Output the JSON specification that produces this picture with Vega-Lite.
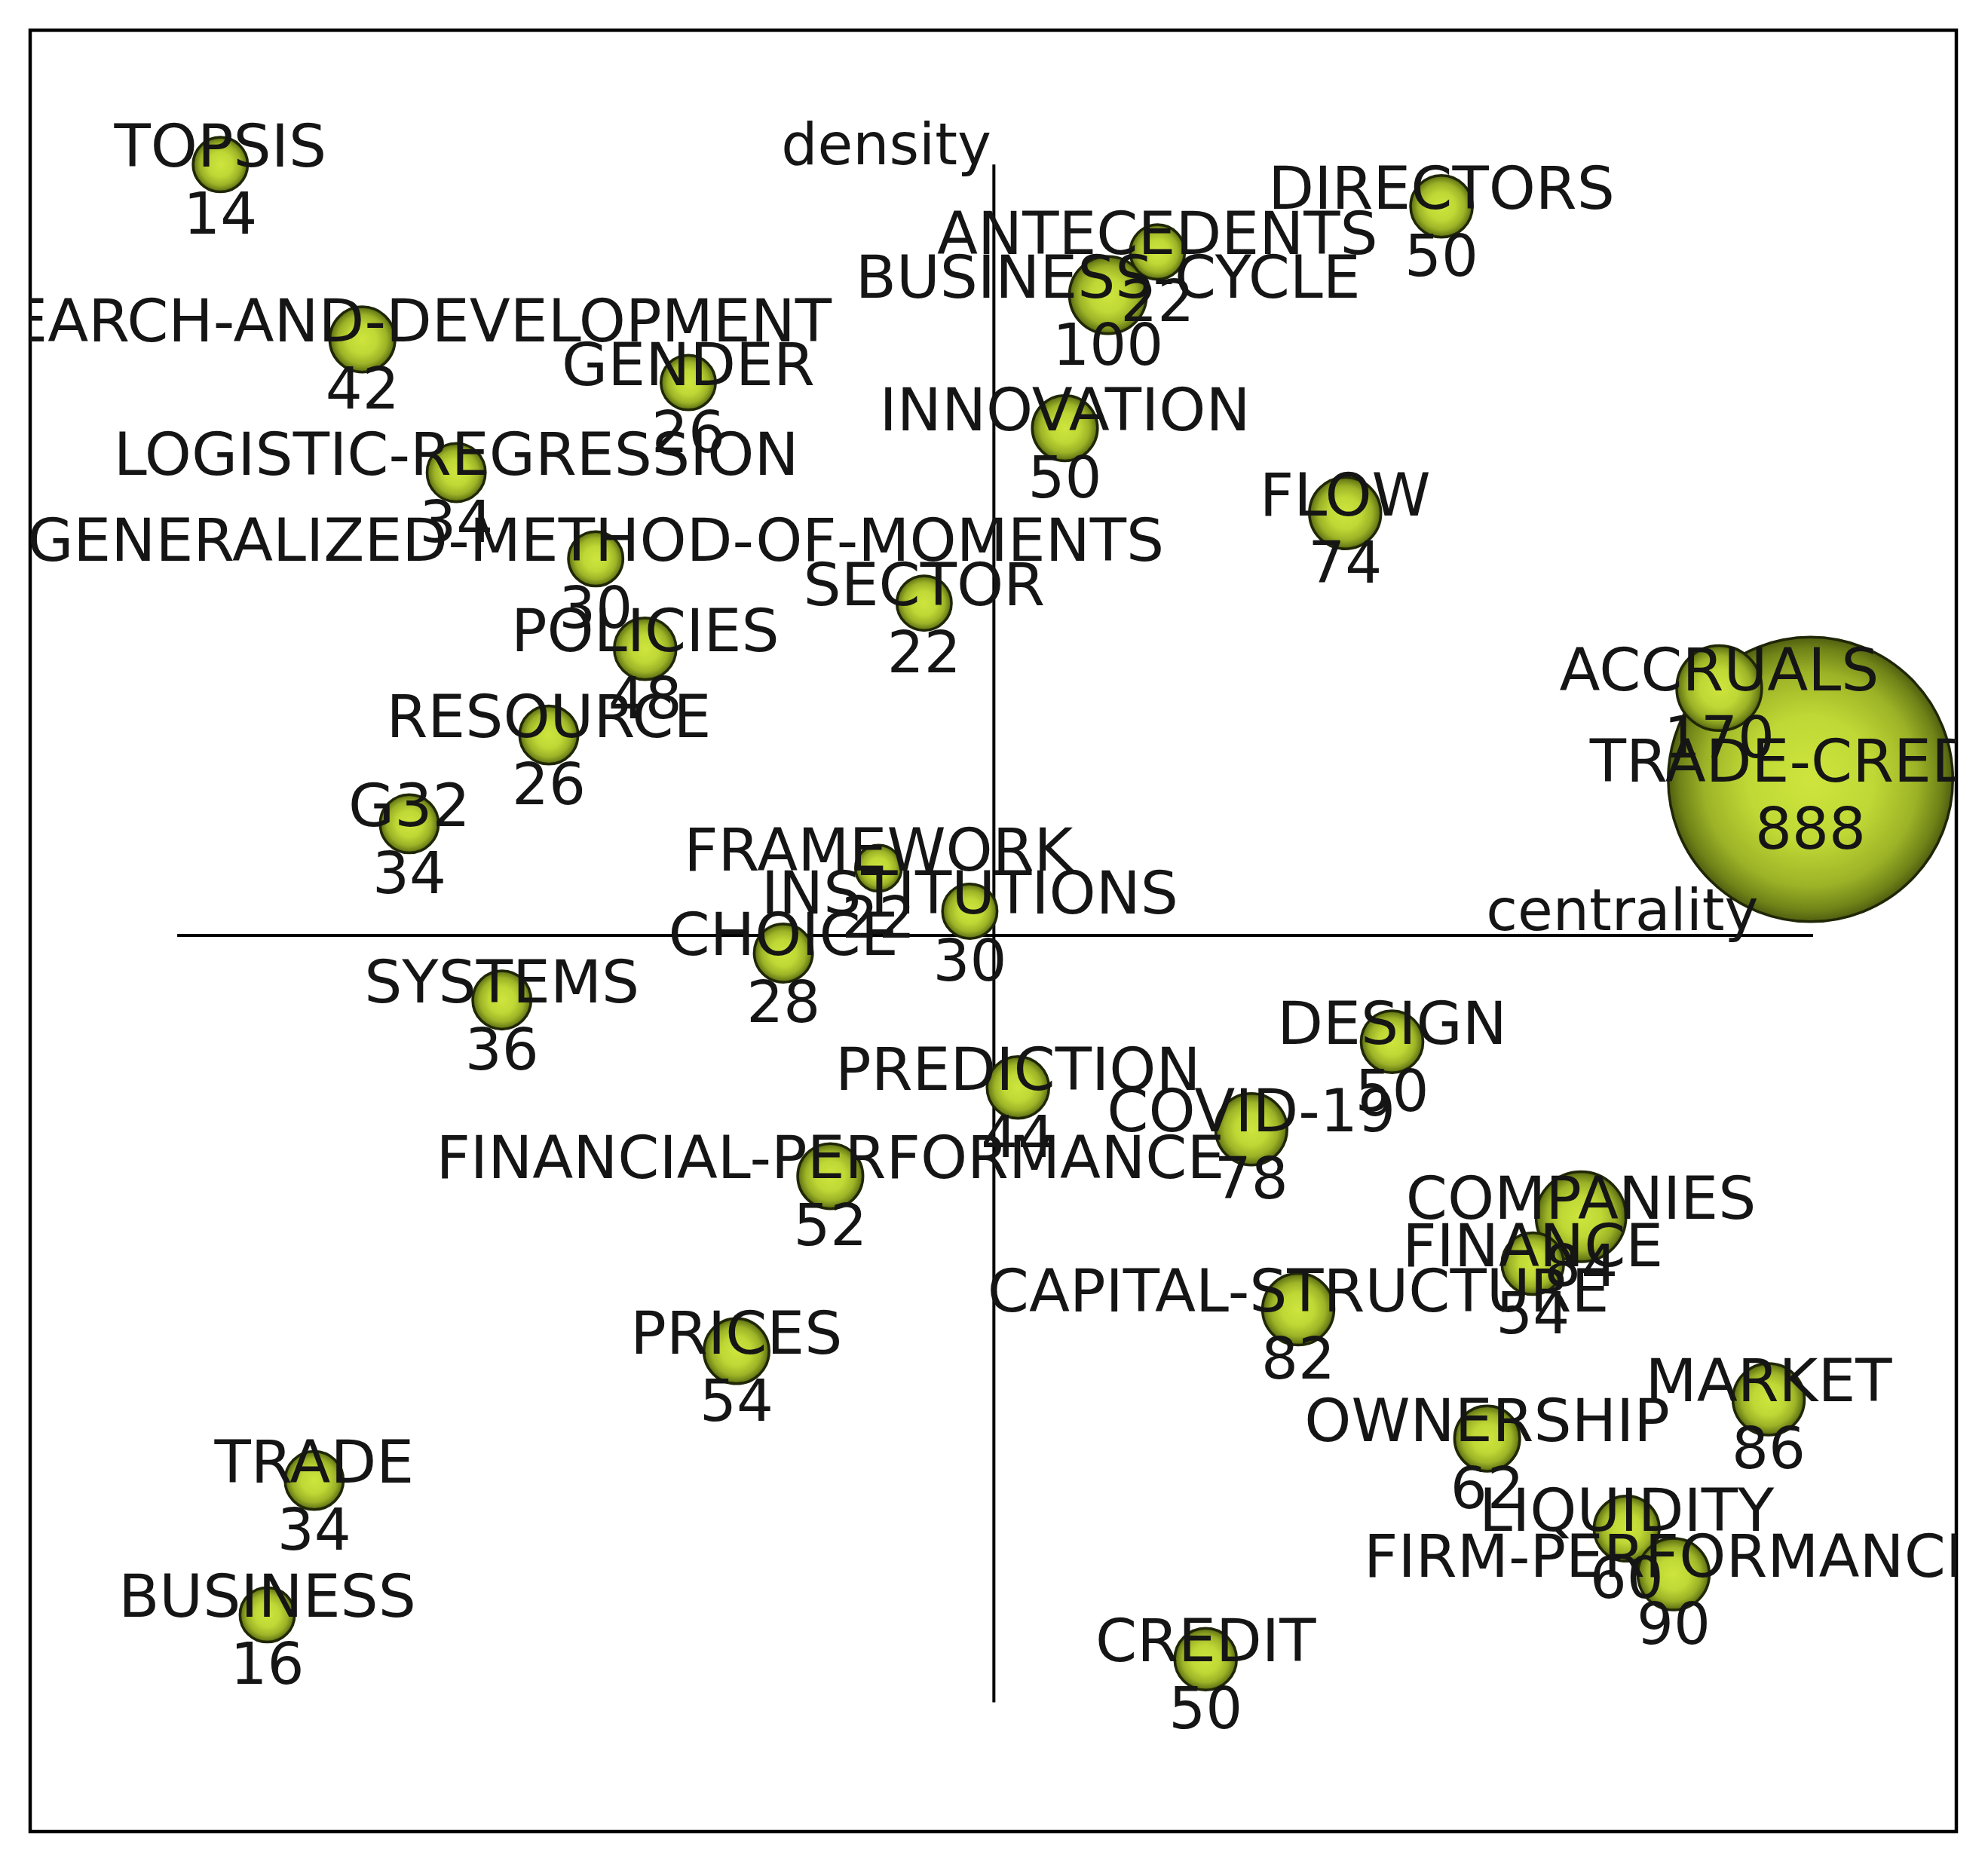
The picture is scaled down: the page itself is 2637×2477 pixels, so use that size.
{
  "$schema": "https://vega.github.io/schema/vega-lite/v6.json",
  "width": 2555,
  "height": 2390,
  "autosize": {"type": "none"},
  "padding": {"left": 40, "top": 40, "right": 42, "bottom": 47},
  "background": "white",
  "config": {"view": {"stroke": "#000000", "strokeWidth": 4.5}},
  "datasets": {
    "themes": [
      {"theme": "TRADE-CREDIT", "citations": 888, "docs": 190, "centrality": 64.4, "density": 12.3},
      {"theme": "TOPSIS", "citations": 14, "docs": 7, "centrality": -61.0, "density": 60.8},
      {"theme": "RESEARCH-AND-DEVELOPMENT", "citations": 42, "docs": 10, "centrality": -49.8, "density": 47.0},
      {"theme": "GENDER", "citations": 26, "docs": 7, "centrality": -24.1, "density": 43.6},
      {"theme": "LOGISTIC-REGRESSION", "citations": 34, "docs": 8, "centrality": -42.4, "density": 36.5},
      {"theme": "GENERALIZED-METHOD-OF-MOMENTS", "citations": 30, "docs": 7, "centrality": -31.4, "density": 29.7},
      {"theme": "POLICIES", "citations": 48, "docs": 9, "centrality": -27.5, "density": 22.6},
      {"theme": "SECTOR", "citations": 22, "docs": 7, "centrality": -5.5, "density": 26.2},
      {"theme": "RESOURCE", "citations": 26, "docs": 8, "centrality": -35.1, "density": 15.8},
      {"theme": "G32", "citations": 34, "docs": 8, "centrality": -46.1, "density": 8.8},
      {"theme": "FRAMEWORK", "citations": 22, "docs": 5, "centrality": -9.1, "density": 5.3},
      {"theme": "INSTITUTIONS", "citations": 30, "docs": 7, "centrality": -1.9, "density": 1.9},
      {"theme": "CHOICE", "citations": 28, "docs": 8, "centrality": -16.6, "density": -1.4},
      {"theme": "SYSTEMS", "citations": 36, "docs": 8, "centrality": -38.8, "density": -5.1},
      {"theme": "PREDICTION", "citations": 44, "docs": 9, "centrality": 1.9, "density": -12.0},
      {"theme": "FINANCIAL-PERFORMANCE", "citations": 52, "docs": 10, "centrality": -12.9, "density": -19.0},
      {"theme": "COVID-19", "citations": 78, "docs": 12, "centrality": 20.3, "density": -15.3},
      {"theme": "DESIGN", "citations": 50, "docs": 9, "centrality": 31.4, "density": -8.4},
      {"theme": "PRICES", "citations": 54, "docs": 10, "centrality": -20.3, "density": -32.8},
      {"theme": "TRADE", "citations": 34, "docs": 8, "centrality": -53.6, "density": -43.0},
      {"theme": "BUSINESS", "citations": 16, "docs": 7, "centrality": -57.3, "density": -53.6},
      {"theme": "CREDIT", "citations": 50, "docs": 9, "centrality": 16.7, "density": -57.1},
      {"theme": "CAPITAL-STRUCTURE", "citations": 82, "docs": 12, "centrality": 24.0, "density": -29.5},
      {"theme": "COMPANIES", "citations": 84, "docs": 19, "centrality": 46.3, "density": -22.2},
      {"theme": "FINANCE", "citations": 54, "docs": 9, "centrality": 42.5, "density": -25.9},
      {"theme": "MARKET", "citations": 86, "docs": 12, "centrality": 61.1, "density": -36.6},
      {"theme": "OWNERSHIP", "citations": 62, "docs": 10, "centrality": 38.9, "density": -39.7},
      {"theme": "LIQUIDITY", "citations": 60, "docs": 10, "centrality": 49.9, "density": -46.8},
      {"theme": "FIRM-PERFORMANCE", "citations": 90, "docs": 12, "centrality": 53.6, "density": -50.4},
      {"theme": "BUSINESS-CYCLE", "citations": 100, "docs": 14, "centrality": 9.0, "density": 50.5},
      {"theme": "ANTECEDENTS", "citations": 22, "docs": 7, "centrality": 12.9, "density": 53.9},
      {"theme": "DIRECTORS", "citations": 50, "docs": 9, "centrality": 35.3, "density": 57.5},
      {"theme": "INNOVATION", "citations": 50, "docs": 10, "centrality": 5.6, "density": 40.0},
      {"theme": "FLOW", "citations": 74, "docs": 12, "centrality": 27.7, "density": 33.3},
      {"theme": "ACCRUALS", "citations": 170, "docs": 17, "centrality": 57.2, "density": 19.5}
    ],
    "axes": [
      {"centrality": -64.4, "centrality2": 64.6, "density": 0, "density2": 0},
      {"centrality": 0, "centrality2": 0, "density": 60.8, "density2": -60.5}
    ],
    "axisTitles": [
      {"title": "density", "centrality": -0.2, "density": 60.8},
      {"title": "centrality", "centrality": 60.3, "density": 0.4}
    ]
  },
  "layer": [
    {
      "data": {"name": "axes"},
      "mark": {"type": "rule", "color": "#000000", "strokeWidth": 4},
      "encoding": {
        "x": {"field": "centrality", "type": "quantitative", "axis": null, "scale": {"domain": [-76.0, 75.9], "nice": false, "zero": false}},
        "x2": {"field": "centrality2"},
        "y": {"field": "density", "type": "quantitative", "axis": null, "scale": {"domain": [-70.7, 71.4], "nice": false, "zero": false}},
        "y2": {"field": "density2"}
      }
    },
    {
      "data": {"name": "themes"},
      "mark": {
        "type": "point",
        "shape": "circle",
        "filled": true,
        "opacity": 1,
        "clip": true,
        "fill": {
          "gradient": "radial",
          "x1": 0.5, "y1": 0.5, "r1": 0,
          "x2": 0.5, "y2": 0.5, "r2": 0.5,
          "stops": [
            {"offset": 0, "color": "#cfe53e"},
            {"offset": 0.45, "color": "#bfd835"},
            {"offset": 0.75, "color": "#9db327"},
            {"offset": 0.92, "color": "#6f8318"},
            {"offset": 1, "color": "#4f5e10"}
          ]
        },
        "stroke": "#1f2706",
        "strokeWidth": 3.5
      },
      "encoding": {
        "x": {"field": "centrality", "type": "quantitative"},
        "y": {"field": "density", "type": "quantitative"},
        "size": {"field": "docs", "type": "quantitative", "legend": null, "scale": {"type": "linear", "domain": [0, 100], "range": [0, 75000], "zero": true}}
      }
    },
    {
      "data": {"name": "themes"},
      "mark": {"type": "text", "clip": true, "font": "DejaVu Sans", "fontSize": 79, "color": "#151515", "align": "center", "baseline": "alphabetic", "dy": 3},
      "encoding": {
        "x": {"field": "centrality", "type": "quantitative"},
        "y": {"field": "density", "type": "quantitative"},
        "text": {"field": "theme"}
      }
    },
    {
      "data": {"name": "themes"},
      "mark": {"type": "text", "clip": true, "font": "DejaVu Sans", "fontSize": 77, "color": "#151515", "align": "center", "baseline": "alphabetic", "dy": 92},
      "encoding": {
        "x": {"field": "centrality", "type": "quantitative"},
        "y": {"field": "density", "type": "quantitative"},
        "text": {"field": "citations", "type": "quantitative"}
      }
    },
    {
      "data": {"name": "axisTitles"},
      "mark": {"type": "text", "clip": true, "font": "DejaVu Sans", "fontSize": 76, "color": "#151515", "align": "right", "baseline": "alphabetic"},
      "encoding": {
        "x": {"field": "centrality", "type": "quantitative"},
        "y": {"field": "density", "type": "quantitative"},
        "text": {"field": "title"}
      }
    }
  ]
}
